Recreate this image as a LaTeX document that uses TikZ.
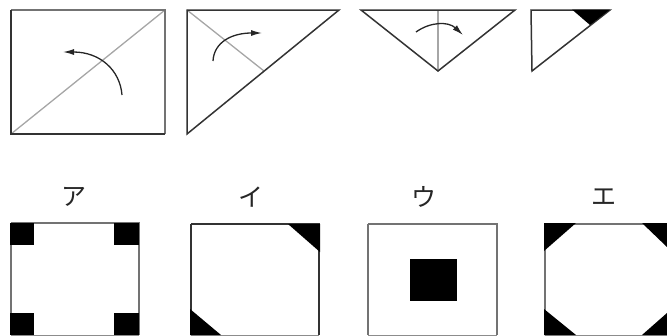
\documentclass[tikz,border=0pt]{standalone}
\usepackage{fontspec}
\newfontfamily\cjk{Noto Sans CJK JP}[Scale=1]
\usetikzlibrary{arrows.meta}
\tikzset{
  outline/.style={draw=black!80,line width=1.5pt,line join=miter},
  softline/.style={draw=black!55,line width=1.6pt,line join=miter},
  crease/.style={draw=black!35,line width=1.3pt},
  foldarrow/.style={draw=black!85,line width=1.3pt,-{Latex[length=11pt,width=6pt]}},
  blackfill/.style={fill=black,draw=none},
  kana/.style={font=\cjk\fontsize{25}{25}\selectfont\color{black!85},inner sep=0pt}
}
\begin{document}
\begin{tikzpicture}[x=1pt,y=-1pt]
\useasboundingbox (0,0) rectangle (667,335);
% panel 1
\draw[crease] (11,134) -- (165,10);
\draw[softline] (11,10) -- (165,10) -- (165,134);
\draw[outline] (165,134) -- (11,134) -- (11,10);
\draw[foldarrow] (122,95) .. controls (120,70) and (100,52) .. (63,52);
% panel 2
\draw[crease] (187,10) -- (264,71);
\draw[outline] (187,10) -- (339,10) -- (187,134) -- cycle;
\draw[foldarrow] (213,61) .. controls (214,42) and (232,33) .. (262,33);
% panel 3
\draw[crease] (438,10) -- (438,71);
\draw[outline] (361,10) -- (515,10) -- (438,71) -- cycle;
\draw[foldarrow] (416,32) .. controls (430,22) and (448,21) .. (463,35);
% panel 4
\draw[outline] (531,10) -- (610,10) -- (532,71) -- cycle;
\fill[blackfill] (572,9.5) -- (610,9.5) -- (590,25) -- cycle;
% labels
\node[kana] (a) at (74,197) {ア};
\node[kana] (i) at (251,197) {イ};
\node[kana] (u) at (424,197) {ウ};
\node[kana] (e) at (604,197) {エ};
% A
\draw[softline] (11,223) -- (139,223) -- (139,335) (11,223) -- (11,335);
\draw[draw=black!45,line width=1pt] (11,335) -- (139,335);
\fill[blackfill] (10,223) rectangle (34,245);
\fill[blackfill] (114,223) rectangle (139,245);
\fill[blackfill] (10,313) rectangle (34,335);
\fill[blackfill] (114,313) rectangle (139,335);
% I
\draw[outline] (191,224) -- (319,224) -- (319,335) (191,224) -- (191,335);
\draw[draw=black!45,line width=1pt] (191,335) -- (319,335);
\fill[blackfill] (288,224) -- (320,224) -- (320,252) -- cycle;
\fill[blackfill] (190,309) -- (190,335) -- (221,335) -- cycle;
% U
\draw[softline] (368,224) -- (497,224) -- (497,335) (368,224) -- (368,335);
\draw[draw=black!45,line width=1pt] (368,335) -- (497,335);
\fill[blackfill] (410,259) rectangle (457,301);
% E
\draw[softline] (545,224) -- (667,224) (545,224) -- (545,335);
\draw[draw=black!45,line width=1pt] (545,335) -- (667,335);
\fill[blackfill] (544,223) -- (576,223) -- (544,251) -- cycle;
\fill[blackfill] (642,223) -- (667,223) -- (667,247) -- cycle;
\fill[blackfill] (544,309) -- (544,335) -- (576,335) -- cycle;
\fill[blackfill] (642,335) -- (667,335) -- (667,313) -- cycle;
\end{tikzpicture}
\end{document}
